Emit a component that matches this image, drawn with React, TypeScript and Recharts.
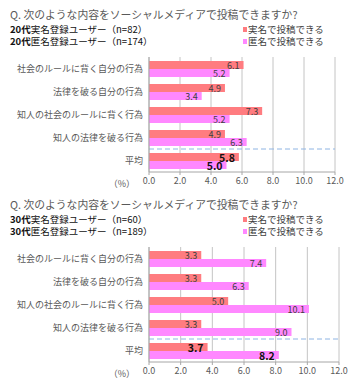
import React from 'react';
import { BarChart, Bar, XAxis, YAxis, CartesianGrid, ReferenceLine, LabelList } from 'recharts';

const categories = [
  '社会のルールに背く自分の行為',
  '法律を破る自分の行為',
  '知人の社会のルールに背く行為',
  '知人の法律を破る行為',
  '平均',
];
const real20 = [6.1, 4.9, 7.3, 4.9, 5.8];
const anon20 = [5.2, 3.4, 5.2, 6.3, 5.0];
const real30 = [3.3, 3.3, 5.0, 3.3, 3.7];
const anon30 = [7.4, 6.3, 10.1, 9.0, 8.2];
const xTicks = [0, 2, 4, 6, 8, 10, 12];
const boundaryTicks = [0, 1, 2, 3, 4, 5];
const seriesNames = ['実名で投稿できる', '匿名で投稿できる'];

const RED = '#ff7c80';
const PINK = '#ff88ff';
const FONT = '"Noto Sans CJK JP", "Noto Sans", sans-serif';
const AXIS = '#a6a6a6';

function ValueLabel(props: any) {
  const { x, y, width, height, value, index } = props;
  const isAvg = index === categories.length - 1;
  return (
    <text
      x={Number(x) + Number(width) - 4}
      y={Number(y) + Number(height) / 2}
      textAnchor="end"
      dominantBaseline="central"
      fontFamily={FONT}
      fontSize={isAvg ? 10.5 : 9}
      fontWeight={isAvg ? 700 : 400}
      fill={isAvg ? '#111' : '#404040'}
    >
      {Number(value).toFixed(1)}
    </text>
  );
}

interface PanelProps {
  top: number;
  age: string;
  nReal: number;
  nAnon: number;
  real: number[];
  anon: number[];
  right: number;
}

function Panel({ top, age, nReal, nAnon, real, anon, right }: PanelProps) {
  const data = categories.map((name, i) => ({ name, real: real[i], anon: anon[i] }));
  const rows: [string, number][] = [['実名', nReal], ['匿名', nAnon]];
  return (
    <div style={{ position: 'absolute', left: 0, top, width: 350, height: 195 }}>
      <div style={{ position: 'absolute', left: 10, top: 7, fontSize: 10.8, lineHeight: '14px', color: '#595959', whiteSpace: 'nowrap' }}>
        Q. 次のような内容をソーシャルメディアで投稿できますか?
      </div>
      {rows.map(([kind, n], i) => (
        <div
          key={kind}
          style={{ position: 'absolute', left: 10, top: 24 + i * 11.5, fontSize: 9.5, lineHeight: '11px', color: '#111', whiteSpace: 'nowrap' }}
        >
          <span style={{ fontWeight: 700 }}>{age}</span>
          <span>{kind}登録ユーザー（n={n}）</span>
        </div>
      ))}
      {seriesNames.map((s, i) => (
        <div
          key={s}
          style={{ position: 'absolute', left: 243, top: 24 + i * 11.5, fontSize: 9.5, lineHeight: '11px', color: '#404040', whiteSpace: 'nowrap', display: 'flex', alignItems: 'center' }}
        >
          <span style={{ display: 'inline-block', width: 4, height: 5, background: i === 0 ? RED : PINK, marginRight: 1 }} />
          <span>{s}</span>
        </div>
      ))}
      <div style={{ position: 'absolute', left: 0, top: 0 }}>
        <BarChart
          width={350}
          height={195}
          data={data}
          layout="vertical"
          margin={{ top: 57, right, bottom: 0, left: 0 }}
          barSize={8}
          barGap={0}
        >
          <CartesianGrid horizontal={false} stroke="#c4c4c4" />
          <XAxis
            type="number"
            domain={[0, 12]}
            ticks={xTicks}
            tickFormatter={(v: number) => v.toFixed(1)}
            height={23}
            tickSize={3}
            tickMargin={3}
            axisLine={{ stroke: AXIS }}
            tickLine={{ stroke: AXIS }}
            tick={{ fill: '#595959', fontSize: 9, fontFamily: FONT }}
            interval={0}
            label={{ value: '（%）', position: 'left', offset: 14, fill: '#595959', fontSize: 9, fontFamily: FONT }}
          />
          <YAxis
            yAxisId="bounds"
            type="number"
            domain={[0, 5]}
            ticks={boundaryTicks}
            reversed
            width={0}
            tick={false}
            tickSize={3}
            axisLine={false}
            tickLine={{ stroke: AXIS }}
          />
          <YAxis
            type="category"
            dataKey="name"
            width={149}
            interval={0}
            tickLine={false}
            tickSize={4}
            tickMargin={2}
            axisLine={{ stroke: AXIS }}
            tick={{ fill: '#595959', fontSize: 9, fontFamily: FONT }}
          />
          <ReferenceLine y="平均" position="start" stroke="#8eb4e3" strokeDasharray="5 3" strokeWidth={1} />
          <Bar dataKey="real" fill={RED} isAnimationActive={false}>
            <LabelList dataKey="real" content={<ValueLabel />} />
          </Bar>
          <Bar dataKey="anon" fill={PINK} isAnimationActive={false}>
            <LabelList dataKey="anon" content={<ValueLabel />} />
          </Bar>
        </BarChart>
      </div>
    </div>
  );
}

export default function App() {
  return (
    <div style={{ position: 'absolute', left: 0, top: 0, width: 350, height: 391, background: '#fff', fontFamily: FONT, overflow: 'hidden' }}>
      <Panel top={0} age="20代" nReal={82} nAnon={174} real={real20} anon={anon20} right={15} />
      <Panel top={190} age="30代" nReal={60} nAnon={189} real={real30} anon={anon30} right={11} />
    </div>
  );
}
